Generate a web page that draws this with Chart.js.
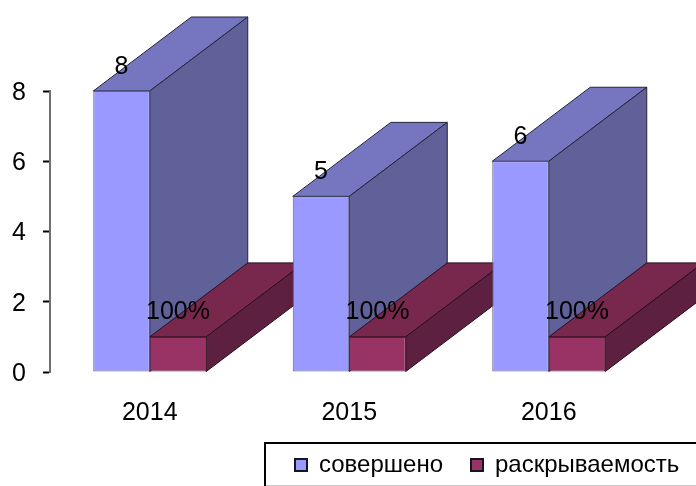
<!DOCTYPE html>
<html><head><meta charset="utf-8">
<style>html,body{margin:0;padding:0;background:#fff;overflow:hidden}canvas{display:block;filter:blur(0.45px)}</style>
<script src="https://cdn.jsdelivr.net/npm/chart.js@4/dist/chart.umd.min.js"></script>
</head><body>
<div style="width:696px;height:486px"><canvas id="c"></canvas></div>
<script>
const categories = ['2014','2015','2016'];
const doneValues = [8,5,6];
const rateValues = [1,1,1];
const doneLabels = ['8','5','6'];
const rateLabels = ['100%','100%','100%'];
const depthX = 98, depthY = 74;
const FONT = 'Liberation Sans, Arial, sans-serif';

function face(ctx, pts, fill, line){
  ctx.beginPath();
  pts.forEach((p,i)=> i?ctx.lineTo(p[0],p[1]):ctx.moveTo(p[0],p[1]));
  ctx.closePath();
  ctx.fillStyle = fill; ctx.fill();
  ctx.lineWidth = 1; ctx.strokeStyle = line; ctx.stroke();
}
function depth(ctx, bar, top, side, line){
  const l = bar.x - bar.width/2, r = bar.x + bar.width/2, t = bar.y, b = bar.base;
  face(ctx, [[l,t],[r,t],[r+depthX,t-depthY],[l+depthX,t-depthY]], top, line);
  face(ctx, [[r,t],[r+depthX,t-depthY],[r+depthX,b-depthY],[r,b]], side, line);
}
const threeD = {
  id:'threeD',
  afterLayout(chart){
    const lg = chart.legend, pad = lg.options.labels.padding;
    lg.left = 295 - pad;
    lg.right = 800;
    lg.top = 465 - pad - 12;
    lg.bottom = lg.top + lg.height;
  },
  beforeDatasetsDraw(chart){
    const ctx = chart.ctx, a = chart.getDatasetMeta(0).data, b = chart.getDatasetMeta(1).data;
    ctx.save();
    a.forEach((bar,i)=>{
      depth(ctx, bar, '#7676c0', '#616199', '#23233a');
      depth(ctx, b[i], '#77284c', '#5d2040', '#2a0e1c');
    });
    ctx.restore();
  },
  afterDatasetsDraw(chart){
    const ctx = chart.ctx;
    ctx.save();
    ctx.font = '25px '+FONT; ctx.fillStyle = '#000'; ctx.textAlign='center'; ctx.textBaseline='middle';
    chart.getDatasetMeta(0).data.forEach((bar,i)=> ctx.fillText(doneLabels[i], bar.x, bar.y-24));
    chart.getDatasetMeta(1).data.forEach((bar,i)=> ctx.fillText(rateLabels[i], bar.x, bar.y-25));
    ctx.restore();
  },
  afterDraw(chart){
    const ctx = chart.ctx;
    ctx.save();
    ctx.strokeStyle='#000'; ctx.lineWidth=2;
    ctx.beginPath(); ctx.moveTo(265,486); ctx.lineTo(265,443); ctx.lineTo(696,443); ctx.stroke();
    ctx.strokeStyle='#c8c8c8'; ctx.lineWidth=1;
    ctx.beginPath(); ctx.moveTo(266,485.5); ctx.lineTo(696,485.5); ctx.stroke();
    ctx.restore();
  }
};
new Chart(document.getElementById('c'),{
  type:'bar',
  data:{labels:categories,datasets:[
    {label:'совершено',data:doneValues,backgroundColor:'#9999ff',borderColor:'#5f5f7f',borderWidth:1,borderSkipped:false,categoryPercentage:0.5664,barPercentage:1},
    {label:'раскрываемость',data:rateValues,backgroundColor:'#993366',borderColor:'#4a2038',borderWidth:1,borderSkipped:false,categoryPercentage:0.5664,barPercentage:1}
  ]},
  plugins:[threeD],
  options:{
    responsive:true,maintainAspectRatio:false,animation:false,
    layout:{padding:{top:91,right:47.5,left:0,bottom:0}},
    plugins:{
      tooltip:{enabled:false},
      legend:{position:'bottom',align:'start',labels:{font:{family:FONT,size:24},color:'#000',boxWidth:12,boxHeight:12,padding:28,
        generateLabels(chart){
          return Chart.defaults.plugins.legend.labels.generateLabels(chart).map(l=>Object.assign(l,{strokeStyle:'#15151f',lineWidth:2}));
        }}}
    },
    scales:{
      x:{grid:{display:false},border:{display:false},
        ticks:{font:{family:FONT,size:25},color:'#000',padding:18,maxRotation:0},
        afterFit(s){s.height=52;}},
      y:{min:0,max:8,grid:{drawOnChartArea:false,tickLength:7,tickColor:'#000',tickWidth:2},
        border:{color:'#707070',width:2},
        ticks:{stepSize:2,font:{family:FONT,size:25},color:'#000',padding:17,labelOffset:2},
        afterFit(s){s.width=50;}}
    }
  }
});
</script>
</body></html>
